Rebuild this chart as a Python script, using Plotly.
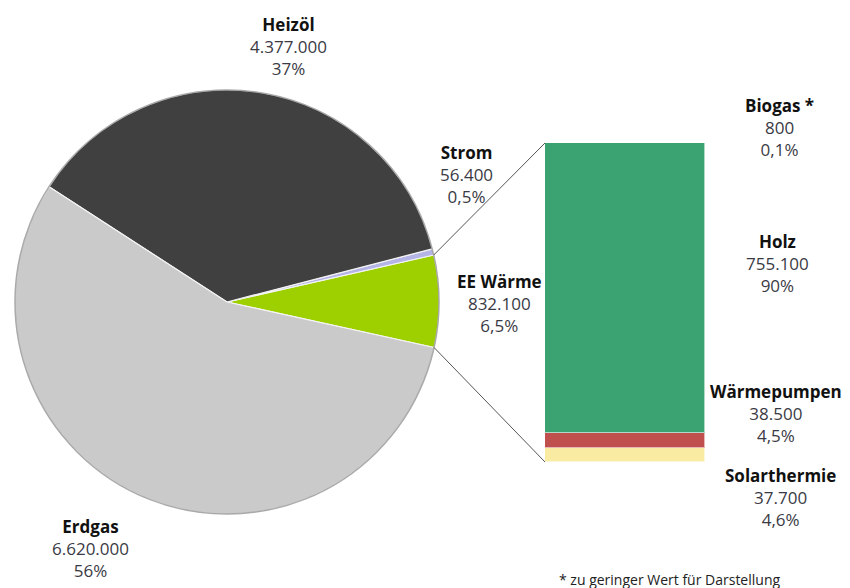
import math
import plotly.graph_objects as go

# ---------------- data ----------------
pie_labels = ["EE Wärme", "Strom", "Heizöl", "Erdgas"]
pie_values = [832100, 56400, 4377000, 6620000]
pie_pct = ["6,5%", "0,5%", "37%", "56%"]

bar_labels = ["Solarthermie", "Wärmepumpen", "Holz", "Biogas *"]
bar_values = [37700, 38500, 755100, 800]
bar_pct = ["4,6%", "4,5%", "90%", "0,1%"]

footnote = "* zu geringer Wert für Darstellung"

# ---------------- style / layout ----------------
OFF = 8                      # page body margin of the html page
W, H = 850 - OFF, 588 - OFF  # figure size so that it fills the window
FONT = "Open Sans"
pie_colors = ["#9ed000", "#b4b4e6", "#404040", "#cacaca"]
bar_colors = ["#f9eca2", "#c0504d", "#3ba271", "#8064a2"]

# pie box in window pixels
pie_cx, pie_cy, pie_r = 227, 302, 212
first_start_deg = -12.4  # math angle where the first slice (EE Wärme) begins

# bar box in window pixels
bar_x0, bar_x1 = 545, 705
bar_top, bar_bot = 143, 462


def px_to_paper(x, y):
    return (x - OFF) / W, 1 - (y - OFF) / H


def fmt(v):
    return f"{v:,}".replace(",", ".")


total = sum(pie_values)
first_width = 360 * pie_values[0] / total
start_math = first_start_deg
end_math = start_math + first_width
# plotly (counterclockwise): rotation marks the ccw-end edge of the first slice
pie_rotation = 90 - end_math

px0, py1 = px_to_paper(pie_cx - pie_r, pie_cy - pie_r)
px1, py0 = px_to_paper(pie_cx + pie_r, pie_cy + pie_r)

fig = go.Figure()

fig.add_trace(go.Pie(
    labels=pie_labels,
    values=pie_values,
    sort=False,
    direction="counterclockwise",
    rotation=pie_rotation,
    textinfo="none",
    hoverinfo="label+value",
    marker=dict(colors=pie_colors, line=dict(color="#f4f4f4", width=1.2)),
    domain=dict(x=[px0, px1], y=[py0, py1]),
    showlegend=False,
))

for lab, val, col in zip(bar_labels, bar_values, bar_colors):
    fig.add_trace(go.Bar(
        x=[0], y=[val], name=lab,
        marker=dict(color=col, line=dict(color="rgba(255,255,255,0.6)", width=1)),
        width=1, showlegend=False, hoverinfo="name+y",
        xaxis="x", yaxis="y",
    ))

total_bar = sum(bar_values)


def rim_point(deg):
    a = math.radians(deg)
    return pie_cx + pie_r * math.cos(a), pie_cy - pie_r * math.sin(a)


shapes = []
# soft rim around pie
shapes.append(dict(
    type="circle", xref="paper", yref="paper",
    x0=px0, x1=px1, y0=py0, y1=py1,
    line=dict(color="rgba(110,110,110,0.55)", width=1.5), layer="above",
))
ex, ey = rim_point(end_math)
sx, sy = rim_point(start_math)
for (px, py), (bx, by) in [((ex, ey), (bar_x0, bar_top)), ((sx, sy), (bar_x0, bar_bot))]:
    x0, y0 = px_to_paper(px, py)
    x1, y1 = px_to_paper(bx, by)
    shapes.append(dict(type="line", xref="paper", yref="paper",
                       x0=x0, y0=y0, x1=x1, y1=y1,
                       line=dict(color="#555555", width=1)))

# annotations (window pixel positions of the middle line)
label_pos = {
    "Heizöl": (288, 47),
    "Strom": (466, 175),
    "EE Wärme": (500, 303),
    "Erdgas": (90, 548),
    "Biogas *": (779, 127),
    "Holz": (777, 263),
    "Wärmepumpen": (776, 413),
    "Solarthermie": (780, 497),
}
annotations = []
for labs, vals, pcts in [(pie_labels, pie_values, pie_pct), (bar_labels, bar_values, bar_pct)]:
    for lab, val, pct in zip(labs, vals, pcts):
        x, y = label_pos[lab]
        xp, yp = px_to_paper(x, y)
        annotations.append(dict(
            x=xp, y=yp, xref="paper", yref="paper",
            xanchor="center", yanchor="middle", showarrow=False,
            text=f"<b><span style='color:#111111'>{lab}</span></b><br>{fmt(val)}<br>{pct}",
            font=dict(family=FONT, size=17, color="#3a3a44"),
            align="center",
        ))

fx, fy = px_to_paper(557, 579)
annotations.append(dict(
    x=fx, y=fy, xref="paper", yref="paper", xanchor="left", yanchor="middle",
    showarrow=False, text=footnote,
    font=dict(family=FONT, size=14, color="#222222"),
))

bx0, by1 = px_to_paper(bar_x0, bar_top)
bx1, by0 = px_to_paper(bar_x1, bar_bot)

fig.update_layout(
    width=W, height=H,
    margin=dict(l=0, r=0, t=0, b=0),
    paper_bgcolor="white", plot_bgcolor="white",
    barmode="stack", bargap=0,
    xaxis=dict(domain=[bx0, bx1], range=[-0.5, 0.5], visible=False, fixedrange=True),
    yaxis=dict(domain=[by0, by1], range=[0, total_bar], visible=False, fixedrange=True),
    shapes=shapes,
    annotations=annotations,
    font=dict(family=FONT),
)

fig.write_html("out.html")
